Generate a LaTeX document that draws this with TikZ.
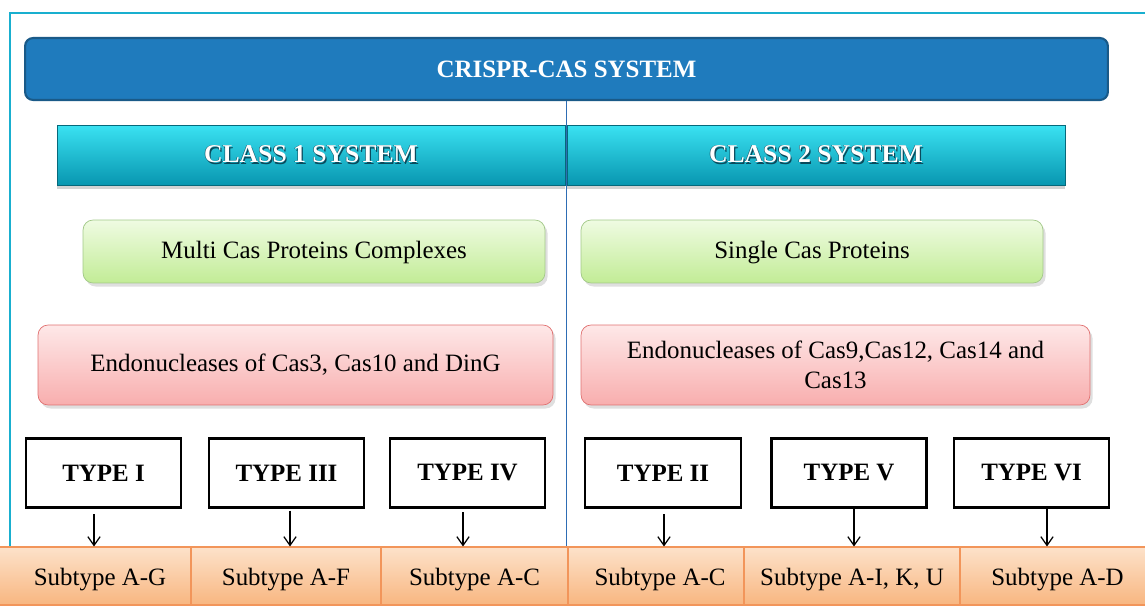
\documentclass[tikz,border=0pt]{standalone}
\usepackage{fontspec}
\setmainfont{Liberation Serif}
\usetikzlibrary{arrows.meta,shadows}

\definecolor{framecyan}{HTML}{19AFCF}
\definecolor{barblue}{HTML}{1F7BBD}
\definecolor{bardark}{HTML}{1A5A88}
\definecolor{clstop}{HTML}{3AE2F2}
\definecolor{clsmid}{HTML}{0DBCD5}
\definecolor{clsbot}{HTML}{0896B0}
\definecolor{clsshade}{HTML}{0A4A5C}
\definecolor{divblue}{HTML}{2E6DB4}
\definecolor{grntop}{HTML}{EFFBE2}
\definecolor{grnbot}{HTML}{C2EC96}
\definecolor{grnline}{HTML}{A2C888}
\definecolor{redtop}{HTML}{FEE8E8}
\definecolor{redbot}{HTML}{F8AEAE}
\definecolor{redline}{HTML}{E07070}
\definecolor{subtop}{HTML}{FDE2CA}
\definecolor{subbot}{HTML}{F8B680}
\definecolor{subline}{HTML}{F2955A}

% white title text with a dark rim
\newcommand{\embossed}[1]{\leavevmode
  \rlap{\color{clsshade}\kern0.7pt\raisebox{-0.7pt}{#1}}%
  \rlap{\color{clsshade}\kern-0.3pt\raisebox{0.3pt}{#1}}#1}

\begin{document}
\begin{tikzpicture}[x=0.02cm,y=-0.02cm,font=\fontsize{14.2}{17}\selectfont,
  topbar/.style={draw=bardark,line width=1.2pt,fill=barblue,rounded corners=0.16cm,
    text=white,font=\fontsize{14.2}{17}\selectfont\bfseries,
    minimum width=21.66cm,minimum height=1.24cm},
  classbar/.style={draw=clsbot!70!black,line width=0.4pt,top color=clstop,
    middle color=clsmid,bottom color=clsbot,text=white,
    font=\fontsize{14.6}{18}\selectfont\bfseries,minimum height=1.2cm,
    text height=11pt,text depth=2pt,
    drop shadow={opacity=0.35,shadow xshift=0pt,shadow yshift=-2.5pt}},
  greenbox/.style={draw=grnline,top color=grntop,bottom color=grnbot,
    rounded corners=0.2cm,minimum width=9.24cm,minimum height=1.26cm,
    text height=11pt,text depth=3pt,
    drop shadow={opacity=0.25,shadow xshift=1.5pt,shadow yshift=-2pt}},
  redbox/.style={draw=redline,top color=redtop,bottom color=redbot,
    rounded corners=0.2cm,minimum height=1.6cm,align=center,
    drop shadow={opacity=0.25,shadow xshift=1.5pt,shadow yshift=-2pt}},
  typebox/.style={draw=black,line width=1.6pt,fill=white,
    font=\fontsize{14.2}{17}\selectfont\bfseries,minimum width=3.1cm,minimum height=1.38cm},
  subcell/.style={draw=subline,line width=0.6pt,top color=subtop,bottom color=subbot,
    minimum height=1.16cm,text height=14pt,text depth=3pt},
  typearrow/.style={-{Straight Barb[length=5pt,width=7pt]},line width=0.7pt}]
\useasboundingbox (0,0) rectangle (1145,605);

% frame round the chart
\draw[framecyan,line width=0.045cm] (10,547) -- (10,13) -- (1160,13);

\node[topbar] (crispr) at (566.5,69) {CRISPR-CAS SYSTEM};

\node[classbar,minimum width=10.16cm] (class1) at (311,155) {\embossed{CLASS 1 SYSTEM}};
\node[classbar,minimum width=9.96cm] (class2) at (816,155) {\embossed{CLASS 2 SYSTEM}};

\node[greenbox] (multi) at (314,251.5) {Multi Cas Proteins Complexes};
\node[greenbox] (single) at (812,251.5) {Single Cas Proteins};

\node[redbox,minimum width=10.3cm] (endo1) at (295.5,365) {Endonucleases of Cas3, Cas10 and DinG};
\node[redbox,minimum width=10.18cm] (endo2) at (835.5,365) {Endonucleases of Cas9,Cas12, Cas14 and\\Cas13};

% types of each class
\node[typebox] (typeI) at (103.5,473) {TYPE I};
\node[typebox] (typeIII) at (286.5,473) {TYPE III};
\node[typebox] (typeIV) at (467.5,473) {TYPE IV};
\node[typebox,minimum width=3.12cm] (typeII) at (663,473) {TYPE II};
\node[typebox] (typeV) at (849,473) {TYPE V};
\node[typebox] (typeVI) at (1031.5,473) {TYPE VI};

% subtype row
\node[subcell,minimum width=3.92cm] (subI) at (93,576) {\hspace*{0.28cm}Subtype A-G};
\node[subcell,minimum width=3.8cm] (subIII) at (286,576) {Subtype A-F};
\node[subcell,minimum width=3.74cm] (subIV) at (474.5,576) {Subtype A-C};
\node[subcell,minimum width=3.52cm] (subII) at (656,576) {\hspace*{0.16cm}Subtype A-C};
\node[subcell,minimum width=4.32cm] (subV) at (852,576) {Subtype A-I, K, U};
\node[subcell,minimum width=3.8cm] (subVI) at (1055,576) {\hspace*{0.1cm}Subtype A-D};

\draw[typearrow] ([xshift=-0.19cm,yshift=-3pt]typeI.south) -- ([xshift=-0.19cm]typeI.south |- subI.north);
\draw[typearrow] ([xshift=0.07cm,yshift=-1pt]typeIII.south) -- ([xshift=0.07cm]typeIII.south |- subIII.north);
\draw[typearrow] ([xshift=-0.09cm,yshift=-2pt]typeIV.south) -- ([xshift=-0.09cm]typeIV.south |- subIV.north);
\draw[typearrow] ([xshift=0.02cm,yshift=-3pt]typeII.south) -- ([xshift=0.02cm]typeII.south |- subII.north);
\draw[typearrow] ([xshift=0.1cm]typeV.south) -- ([xshift=0.1cm]typeV.south |- subV.north);
\draw[typearrow] ([xshift=0.31cm]typeVI.south) -- ([xshift=0.31cm]typeVI.south |- subVI.north);

% split between the two classes
\draw[divblue,line width=0.6pt] (crispr.south) -- (crispr.south |- subII.north);

\end{tikzpicture}
\end{document}
